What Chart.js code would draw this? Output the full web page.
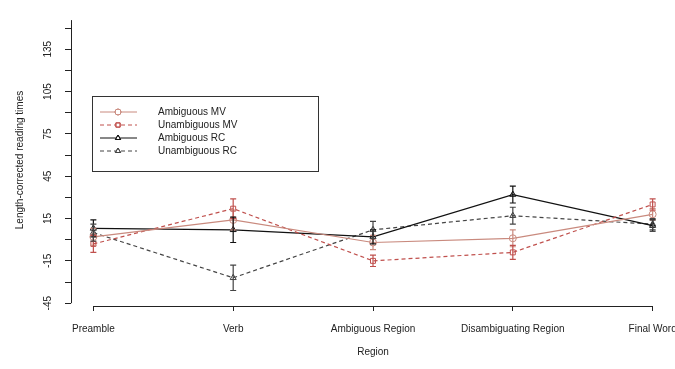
<!DOCTYPE html>
<html>
<head>
<meta charset="utf-8">
<script src="https://cdn.jsdelivr.net/npm/chart.js@4/dist/chart.umd.min.js"></script>
<style>
  html, body { margin: 0; padding: 0; background: #fff; }
  #wrap { width: 675px; height: 369px; position: relative; }
</style>
</head>
<body>
<div id="wrap"><canvas id="c" width="675" height="369"></canvas></div>
<script>
// ---- data ----
const regions = ['Preamble', 'Verb', 'Ambiguous Region', 'Disambiguating Region', 'Final Word'];
const seriesNames = ['Ambiguous MV', 'Unambiguous MV', 'Ambiguous RC', 'Unambiguous RC'];
const ambMV   = [2, 14, -2, 1, 18];
const unambMV = [-3, 22, -15, -9, 25];
const ambRC   = [8, 7, 2, 32, 10];
const unambRC = [5, -27, 7, 17, 11];
const ambMVErr   = [6, 7, 5, 6, 4];
const unambMVErr = [6, 7, 4, 5, 4];
const ambRCErr   = [6, 9, 5, 6, 4];
const unambRCErr = [6, 9, 6, 6, 4];
const yTickValues = [-45, -30, -15, 0, 15, 30, 45, 60, 75, 90, 105, 120, 135, 150];
const yLabelled = [-45, -15, 15, 45, 75, 105, 135];
const xTickValues = [0, 1, 2, 3, 4];

const FONT = 'Liberation Sans, Arial, sans-serif';

function pts(arr) { return arr.map((v, i) => ({ x: i, y: v })); }

const styles = [
  { color: '#c98a7e', dash: [], point: 'circle' },
  { color: '#c0504d', dash: [4, 3], point: 'rect' },
  { color: '#111111', dash: [], point: 'triangle' },
  { color: '#444444', dash: [4, 3], point: 'triangle' }
];
const values = [ambMV, unambMV, ambRC, unambRC];
const errors = [ambMVErr, unambMVErr, ambRCErr, unambRCErr];

const datasets = seriesNames.map((n, k) => ({
  label: n,
  data: pts(values[k]),
  errs: errors[k],
  borderColor: styles[k].color,
  backgroundColor: 'rgba(255,255,255,0)',
  borderDash: styles[k].dash,
  borderWidth: 1.2,
  pointStyle: styles[k].point,
  pointRadius: 3.5,
  pointBorderWidth: 1,
  pointBorderColor: styles[k].color,
  pointBackgroundColor: 'rgba(255,255,255,0)',
  tension: 0
}));

const errorBars = {
  id: 'errorBars',
  afterDatasetsDraw(chart) {
    const ctx = chart.ctx, xs = chart.scales.x, ys = chart.scales.y;
    chart.data.datasets.forEach((ds) => {
      ctx.save();
      ctx.strokeStyle = ds.borderColor;
      ctx.lineWidth = 1.2;
      ds.data.forEach((p, i) => {
        const e = ds.errs[i];
        const x = xs.getPixelForValue(p.x);
        const y1 = ys.getPixelForValue(p.y + e);
        const y2 = ys.getPixelForValue(p.y - e);
        ctx.beginPath();
        ctx.moveTo(x, y1); ctx.lineTo(x, y2);
        ctx.moveTo(x - 3, y1); ctx.lineTo(x + 3, y1);
        ctx.moveTo(x - 3, y2); ctx.lineTo(x + 3, y2);
        ctx.stroke();
      });
      ctx.restore();
    });
  }
};

const axisLines = {
  id: 'axisLines',
  afterDraw(chart) {
    const ctx = chart.ctx, xs = chart.scales.x, ys = chart.scales.y;
    ctx.save();
    ctx.strokeStyle = '#222';
    ctx.lineWidth = 1;
    const xl = Math.round(chart.chartArea.left) + 0.5;
    ctx.beginPath();
    ctx.moveTo(xl, ys.getPixelForValue(yTickValues[0]));
    ctx.lineTo(xl, ys.getPixelForValue(yTickValues[yTickValues.length - 1]) - 8);
    const yb = Math.round(chart.chartArea.bottom) + 0.5;
    ctx.moveTo(xs.getPixelForValue(xTickValues[0]), yb);
    ctx.lineTo(xs.getPixelForValue(xTickValues[xTickValues.length - 1]), yb);
    ctx.stroke();
    ctx.restore();
  }
};

const boxLegend = {
  id: 'boxLegend',
  afterDraw(chart) {
    const ctx = chart.ctx;
    ctx.save();
    ctx.strokeStyle = '#333';
    ctx.lineWidth = 1;
    ctx.strokeRect(92.5, 96.5, 226, 75);
    ctx.font = '10px ' + FONT;
    ctx.textBaseline = 'middle';
    ctx.textAlign = 'left';
    const rows = [112, 125, 138, 151];
    chart.data.datasets.forEach((ds, k) => {
      const y = rows[k];
      ctx.strokeStyle = ds.borderColor;
      ctx.setLineDash(ds.borderDash);
      ctx.beginPath(); ctx.moveTo(100, y); ctx.lineTo(137, y); ctx.stroke();
      ctx.setLineDash([]);
      ctx.fillStyle = '#fff';
      Chart.helpers.drawPoint(ctx, { pointStyle: ds.pointStyle, radius: 3, borderWidth: 1, rotation: 0 }, 118, y);
      ctx.stroke();
      ctx.fillStyle = '#222';
      ctx.fillText(ds.label, 158, y);
    });
    ctx.restore();
  }
};

new Chart(document.getElementById('c'), {
  type: 'line',
  data: { datasets },
  options: {
    responsive: false,
    animation: false,
    devicePixelRatio: 1,
    layout: { autoPadding: false, padding: { top: 10, right: 0, left: 0, bottom: 0 } },
    plugins: { legend: { display: false }, tooltip: { enabled: false } },
    scales: {
      x: {
        type: 'linear',
        min: -0.16, max: 4.16,
        afterBuildTicks: (s) => { s.ticks = xTickValues.map(v => ({ value: v })); },
        afterFit: (s) => { s.height = 63; s.paddingLeft = 0; s.paddingRight = 0; },
        border: { display: false },
        grid: { drawOnChartArea: false, drawTicks: true, tickLength: 5, color: '#222' },
        ticks: {
          autoSkip: false, maxRotation: 0, minRotation: 0, padding: 12,
          color: '#222', font: { family: FONT, size: 10 },
          callback: (v) => regions[v] ?? ''
        },
        title: { display: true, text: 'Region', color: '#222', font: { family: FONT, size: 10 }, padding: { top: 4, bottom: 11 } }
      },
      y: {
        type: 'linear',
        min: -47, max: 160,
        afterBuildTicks: (s) => { s.ticks = yTickValues.map(v => ({ value: v })); },
        afterFit: (s) => { s.width = 71; },
        border: { display: false },
        grid: { drawOnChartArea: false, drawTicks: true, tickLength: 6, color: '#222' },
        ticks: {
          autoSkip: false, minRotation: 90, maxRotation: 90, crossAlign: 'center', padding: 8,
          color: '#222', font: { family: FONT, size: 10 },
          callback: (v) => yLabelled.includes(v) ? String(v) : ''
        },
        title: { display: true, text: 'Length-corrected reading times', color: '#222', font: { family: FONT, size: 10 }, padding: { top: 14, bottom: 4 } }
      }
    }
  },
  plugins: [errorBars, axisLines, boxLegend]
});
</script>
</body>
</html>
